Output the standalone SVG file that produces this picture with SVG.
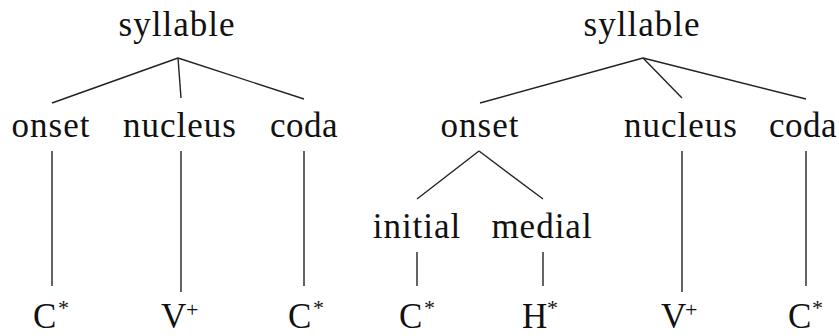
<svg xmlns="http://www.w3.org/2000/svg" width="839" height="336" viewBox="0 0 839 336">
  <style>
    .edges line { stroke: #222; stroke-width: 1.4; stroke-linecap: butt; }
  </style>
  <rect width="839" height="336" fill="#fff"/>

  <!-- connectors -->
  <g class="edges">
    <!-- left tree -->
    <line x1="178" y1="58" x2="52" y2="103"/>
    <line x1="178" y1="58" x2="181" y2="98"/>
    <line x1="178" y1="58" x2="304" y2="99"/>
    <line x1="52" y1="151" x2="52" y2="286"/>
    <line x1="181" y1="151" x2="181" y2="292"/>
    <line x1="304" y1="151" x2="304" y2="286"/>
    <!-- right tree -->
    <line x1="643" y1="58" x2="480" y2="103"/>
    <line x1="643" y1="58" x2="682" y2="98"/>
    <line x1="643" y1="58" x2="806" y2="99"/>
    <line x1="479" y1="151" x2="417" y2="199"/>
    <line x1="479" y1="151" x2="543" y2="199"/>
    <line x1="417" y1="252" x2="417" y2="286"/>
    <line x1="543" y1="252" x2="543" y2="286"/>
    <line x1="682" y1="151" x2="682" y2="292"/>
    <line x1="806" y1="151" x2="806" y2="286"/>
  </g>

  <g font-family="Liberation Serif, Times New Roman, serif" font-size="35" fill="#111">
    <!-- inner nodes: centred labels -->
    <g text-anchor="middle">
      <g id="l-syllable"><text x="177" y="36" letter-spacing="1">syllable</text></g>
      <g id="l-onset"><text x="51" y="137" letter-spacing="1">onset</text></g>
      <g id="l-nucleus"><text x="180" y="137" letter-spacing="1">nucleus</text></g>
      <g id="l-coda"><text x="304" y="137" letter-spacing="0.5">coda</text></g>
      <g id="r-syllable"><text x="642" y="36" letter-spacing="1">syllable</text></g>
      <g id="r-onset"><text x="480" y="137" letter-spacing="1">onset</text></g>
      <g id="r-nucleus"><text x="681" y="137" letter-spacing="1">nucleus</text></g>
      <g id="r-coda"><text x="803" y="137" letter-spacing="0.5">coda</text></g>
      <g id="r-initial"><text x="417" y="238" letter-spacing="1">initial</text></g>
      <g id="r-medial"><text x="542" y="238" letter-spacing="1">medial</text></g>
    </g>

    <!-- leaves: base letter plus raised mark -->
    <g id="l-c1"><text x="33" y="328">C</text><text x="58" y="315" font-size="22">*</text></g>
    <g id="l-v"><text x="161" y="328">V</text><text x="186" y="317" font-size="22">+</text></g>
    <g id="l-c2"><text x="288" y="328">C</text><text x="313" y="315" font-size="22">*</text></g>
    <g id="r-c1"><text x="399" y="328">C</text><text x="424" y="315" font-size="22">*</text></g>
    <g id="r-h"><text x="522" y="328">H</text><text x="547" y="315" font-size="22">*</text></g>
    <g id="r-v"><text x="661" y="328">V</text><text x="685" y="317" font-size="22">+</text></g>
    <g id="r-c2"><text x="788" y="328">C</text><text x="812" y="315" font-size="22">*</text></g>
  </g>
</svg>
